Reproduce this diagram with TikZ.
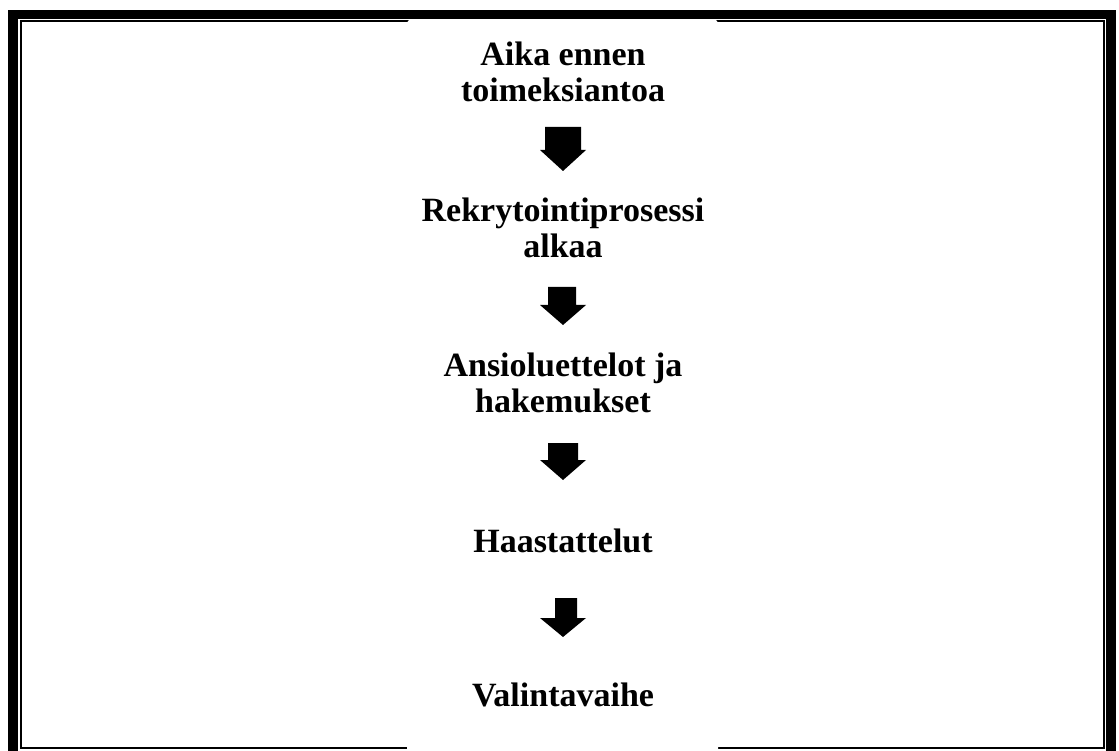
\documentclass[tikz,border=0pt]{standalone}
\usepackage{fontspec}
\setmainfont{Liberation Serif}
\begin{document}
\begin{tikzpicture}[x=1pt,y=-1pt,
  lbl/.style={font=\fontsize{34}{36}\selectfont\bfseries, align=center, inner sep=0pt, anchor=base},
  blockarrow/.style={fill=black}]
\useasboundingbox (0,0) rectangle (1119,751);
% frame
\fill[black] (8,10) rectangle (1116,780);
\fill[white] (18,19) rectangle (1106,770);
\draw[line width=1.8pt] (21,21) rectangle (1104,748);
\fill[white, rounded corners=4pt] (407,19.5) rectangle (718,770);
% texts (anchor base = baseline of last line)
\node[lbl] (t1) at (563,102) {Aika ennen\\toimeksiantoa};
\node[lbl] (t2) at (563,258) {Rekrytointiprosessi\\alkaa};
\node[lbl] (t3) at (563,412) {Ansioluettelot ja\\hakemukset};
\node[lbl] (t4) at (563,552) {Haastattelut};
\node[lbl] (t5) at (563,706) {Valintavaihe};
% block arrows
\coordinate (a1) at (563,127);
\coordinate (a2) at (563,287);
\coordinate (a3) at (563,443);
\coordinate (a4) at (563,598);
\fill[blockarrow] (a1) ++(-18,0) -- ++(36,0) -- ++(0,23) -- ++(5,0) -- ++(-23,21) -- ++(-23,-21) -- ++(5,0) -- cycle;
\fill[blockarrow] (a2) ++(-15,0) -- ++(28,0) -- ++(0,18) -- ++(10,0) -- ++(-23,20) -- ++(-23,-20) -- ++(8,0) -- cycle;
\fill[blockarrow] (a3) ++(-15,0) -- ++(30,0) -- ++(0,17) -- ++(8,0) -- ++(-23,20) -- ++(-23,-20) -- ++(8,0) -- cycle;
\fill[blockarrow] (a4) ++(-8,0) -- ++(22,0) -- ++(0,20) -- ++(9,0) -- ++(-23,19) -- ++(-23,-19) -- ++(15,0) -- cycle;
\end{tikzpicture}
\end{document}
